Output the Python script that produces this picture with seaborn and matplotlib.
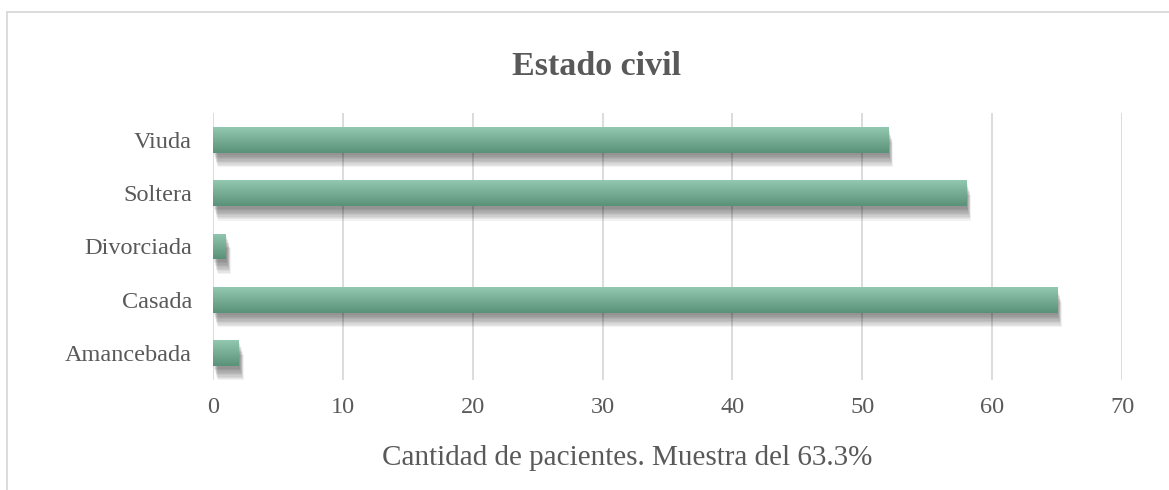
"""
Estado civil - horizontal bar chart (Excel style) with seaborn
"""

import numpy as np
import pandas as pd
import matplotlib
matplotlib.use("Agg")
import matplotlib.pyplot as plt
from matplotlib.colors import LinearSegmentedColormap
from matplotlib.patches import Rectangle
import seaborn as sns

categories = ["Viuda", "Soltera", "Divorciada", "Casada", "Amancebada"]
values = [52, 58, 1, 65, 2]
x_ticks = [0, 10, 20, 30, 40, 50, 60, 70]

title = "Estado civil"
x_label = "Cantidad de pacientes. Muestra del 63.3%"

df = pd.DataFrame({"estado": categories, "n": values})

sns.set_theme(style="white")
plt.rcParams["font.family"] = ["Liberation Serif", "DejaVu Serif"]

text_gray = "#595959"
grid_gray = "#d9d9d9"

fig = plt.figure(figsize=(11.69, 4.9), dpi=100)
ax = fig.add_axes([213 / 1169, 1 - 380 / 490, (1122 - 213) / 1169, (380 - 113) / 490])

sns.barplot(data=df, x="n", y="estado", order=categories, color="#76ad93",
            width=0.48, linewidth=0, edgecolor="none", ax=ax, zorder=3)

ax.set_xlim(0, 70)
ax.set_ylim(len(categories) - 0.5, -0.5)
ax.set_xticks(x_ticks)
ax.set_xticklabels([str(t) for t in x_ticks])
ax.tick_params(axis="both", length=0, labelsize=17.5, colors=text_gray)
ax.tick_params(axis="y", pad=15)
ax.tick_params(axis="x", pad=12)
ax.xaxis.grid(True, color=grid_gray, linewidth=1.3, zorder=0)
ax.yaxis.grid(False)
for s in ax.spines.values():
    s.set_visible(False)
ax.set_xlabel("")
ax.set_ylabel("")

# gradient fill + soft shadow for each bar
cmap = LinearSegmentedColormap.from_list("g", ["#93c8b0", "#5a9179"])
grad = np.linspace(0, 1, 64).reshape(-1, 1)
for p in list(ax.patches):
    x0, y0 = p.get_x(), p.get_y()
    w, h = p.get_width(), p.get_height()
    # blurred drop shadow, mostly below and slightly right
    for k in range(10):
        sh = Rectangle((x0 + 0.08 + k * 0.03, y0 + 0.05 + k * 0.025), w, h,
                       facecolor="#000000", alpha=0.05, edgecolor="none", zorder=2)
        ax.add_patch(sh)
    p.set_zorder(3)
    im = ax.imshow(grad, cmap=cmap, aspect="auto",
                   extent=(x0, x0 + w, y0 + h, y0), zorder=4, interpolation="bilinear")
    im.set_clip_path(p)
ax.set_xlim(0, 70)
ax.set_ylim(len(categories) - 0.5, -0.5)

fig.text(597 / 1169, 1 - 66 / 490, title, ha="center", va="center",
         fontsize=24.5, fontweight="bold", color=text_gray)
fig.text(627 / 1169, 1 - 458 / 490, x_label, ha="center", va="center",
         fontsize=21, color=text_gray)

# outer chart-area border (cropped at right/bottom)
fig.add_artist(plt.Line2D([7 / 1169, 1.0], [1 - 12 / 490, 1 - 12 / 490],
                          transform=fig.transFigure, color=grid_gray, linewidth=1.3))
fig.add_artist(plt.Line2D([7 / 1169, 7 / 1169], [0.0, 1 - 12 / 490],
                          transform=fig.transFigure, color=grid_gray, linewidth=1.3))

fig.savefig("out.png", dpi=100)
